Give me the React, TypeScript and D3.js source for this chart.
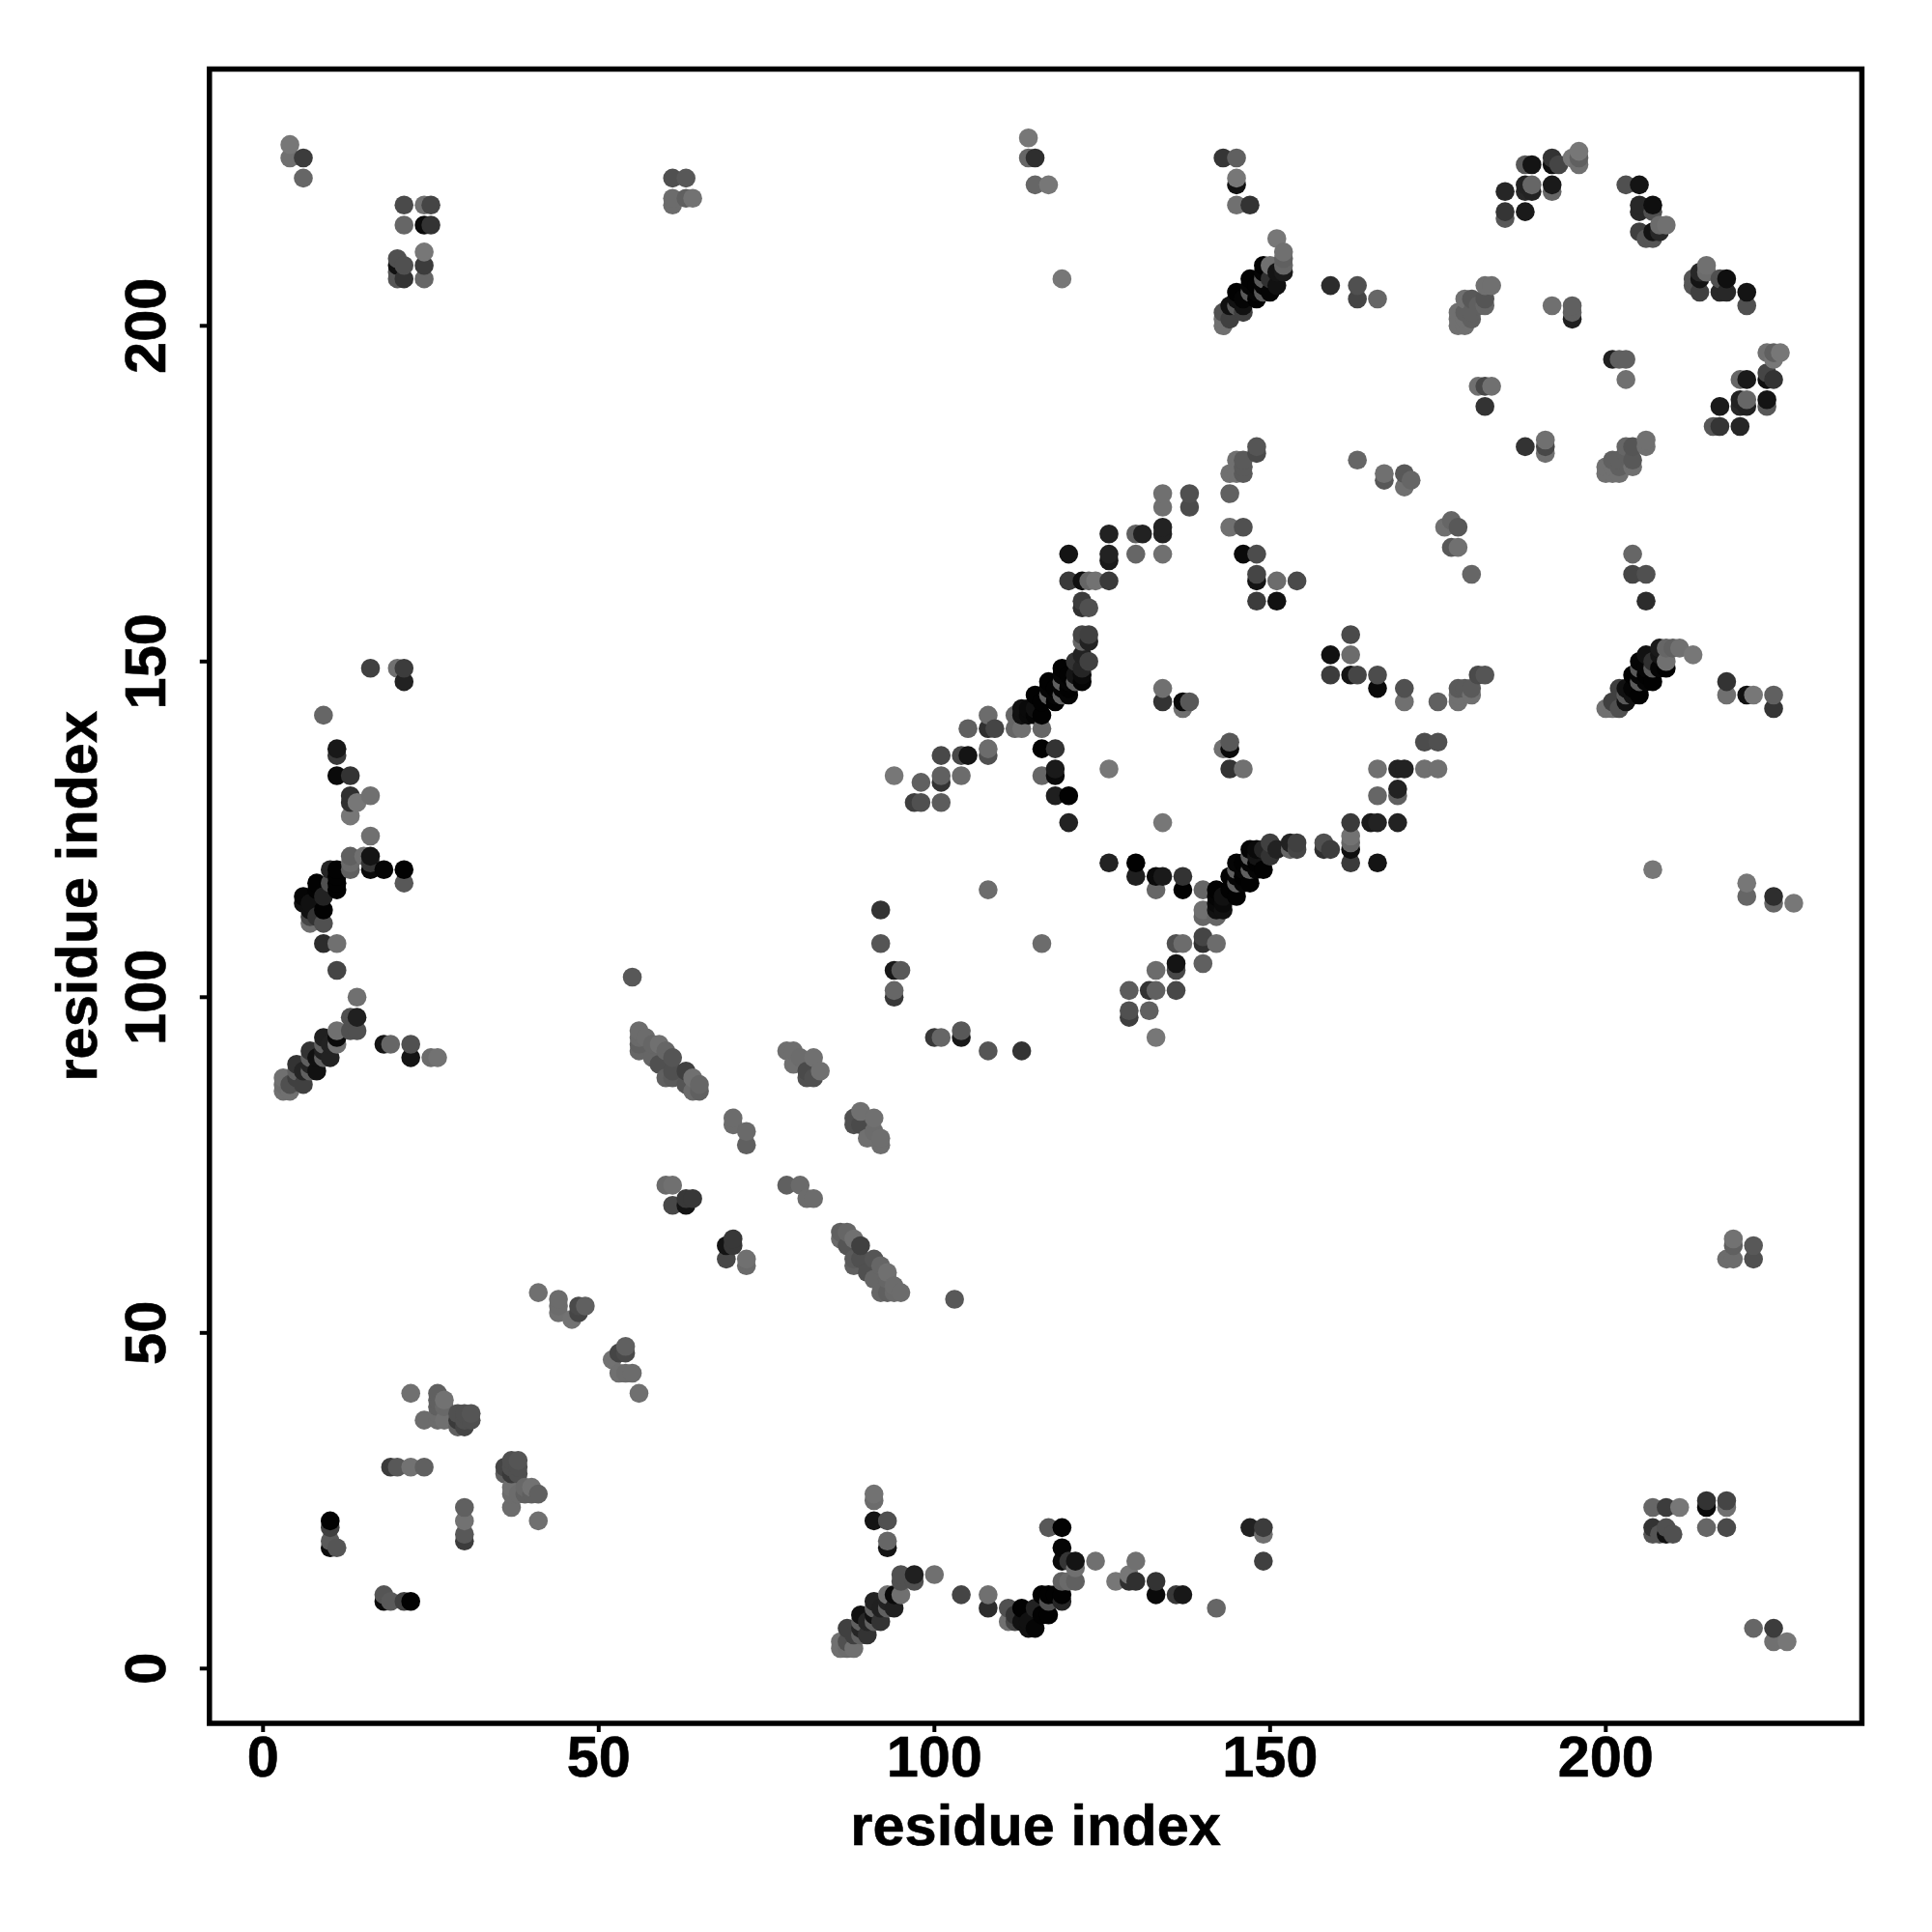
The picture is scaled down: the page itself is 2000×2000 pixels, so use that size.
import React from "react";
import * as d3 from "d3";

type C = [number, number, number];

// Contacts as [residue i, residue j, grey level]; the map is symmetric, so j > i only.
const armLowerLeft: C[] = [[3,88,0x70],[3,87,0x6c],[3,86,0x70],[4,87,0x50],[4,86,0x70],[5,88,0x40],[5,89,0x60],[5,90,0x33],[6,87,0x40],[6,89,0x25],[7,89,0x60],[7,90,0x25],[7,91,0x60],[7,92,0x33],[8,89,0x11],[8,91,0x11],[9,91,0x60],[9,92,0x20],[9,93,0x60],[9,94,0x20],[10,91,0x22],[10,93,0x22],[11,93,0x70],[11,94,0x0a],[11,95,0x70],[13,95,0x50],[13,97,0x50],[14,95,0x50],[14,97,0x20],[14,100,0x70],[18,93,0x14],[19,93,0x66],[22,91,0x14],[22,93,0x50],[25,91,0x6c],[26,91,0x72]];
const armUpperLeft: C[] = [[6,114,0x11],[6,115,0x05],[7,111,0x70],[7,112,0x45],[7,113,0x11],[7,114,0x11],[8,112,0x33],[8,116,0x02],[8,117,0x02],[9,108,0x2c],[9,111,0x50],[9,113,0x02],[9,115,0x22],[10,117,0x50],[10,119,0x25],[11,104,0x45],[11,108,0x70],[11,116,0x02],[11,117,0x02],[11,118,0x02],[11,119,0x02],[13,119,0x60],[13,120,0x6a],[13,121,0x60],[15,121,0x70],[16,119,0x0a],[16,120,0x35],[16,121,0x14],[16,124,0x70],[18,119,0x05],[21,117,0x58],[21,119,0x02]];
const stemLeft: C[] = [[9,142,0x66],[11,133,0x0a],[11,136,0x38],[11,137,0x18],[13,127,0x77],[13,129,0x30],[13,130,0x30],[13,133,0x33],[14,129,0x77],[16,130,0x70],[16,149,0x40],[20,149,0x70],[21,147,0x22],[21,149,0x3c]];
const topLeft: C[] = [[4,225,0x70],[4,227,0x77],[6,222,0x66],[6,225,0x3c],[20,207,0x55],[20,208,0x55],[20,209,0x11],[20,210,0x50],[21,207,0x33],[21,209,0x50],[21,215,0x66],[21,218,0x4a],[24,207,0x66],[24,209,0x3c],[24,211,0x77],[24,215,0x0a],[24,218,0x70],[25,215,0x33],[25,218,0x45],[61,218,0x6c],[61,219,0x6c],[61,222,0x50],[63,219,0x60],[63,222,0x58],[64,219,0x72]];
const lowerLeftGroup: C[] = [[10,18,0x0a],[10,19,0x5a],[10,21,0x50],[10,22,0x0a],[11,18,0x58],[19,30,0x3c],[20,30,0x58],[22,30,0x72],[24,30,0x60],[18,11,0x55],[18,10,0x0a],[19,10,0x5a],[21,10,0x40],[22,10,0x02],[22,41,0x70],[24,37,0x6c],[26,37,0x6c],[26,38,0x6c],[26,39,0x60],[26,40,0x60],[26,41,0x60],[27,37,0x70],[27,39,0x68],[27,40,0x72],[29,36,0x60],[29,37,0x3a],[29,38,0x50],[30,36,0x45],[30,37,0x50],[30,38,0x50],[31,37,0x50],[31,38,0x55],[41,56,0x70],[44,53,0x70],[44,54,0x6c],[44,55,0x6c],[46,52,0x72],[47,53,0x45],[47,54,0x4a],[48,54,0x60],[55,103,0x58]];
const nearDiagonal: C[] = [[56,92,0x66],[56,93,0x60],[56,94,0x6a],[56,95,0x6c],[57,94,0x6c],[58,91,0x66],[58,93,0x66],[59,90,0x50],[59,93,0x70],[60,88,0x60],[60,92,0x66],[61,88,0x5a],[61,89,0x50],[61,91,0x55],[63,87,0x55],[63,89,0x40],[64,86,0x6a],[64,88,0x70],[65,86,0x60],[65,87,0x66],[60,72,0x6a],[61,69,0x48],[61,72,0x70],[63,69,0x14],[63,70,0x38],[64,70,0x38],[70,81,0x6c],[70,82,0x6c],[72,78,0x60],[72,80,0x6a],[78,92,0x6e],[79,90,0x70],[79,92,0x6e],[80,91,0x6c],[81,88,0x50],[81,89,0x4a],[82,88,0x50],[82,91,0x70],[83,89,0x70]];
const middleBand: C[] = [[92,108,0x55],[92,113,0x33],[94,100,0x38],[94,101,0x66],[94,104,0x18],[94,133,0x77],[95,104,0x58],[97,129,0x3e],[98,129,0x50],[98,132,0x60],[101,129,0x5c],[101,132,0x33],[101,133,0x60],[101,136,0x48],[104,133,0x6c],[104,136,0x48],[105,136,0x14],[105,140,0x60],[108,116,0x6c],[108,136,0x50],[108,137,0x6c],[108,140,0x30],[108,142,0x6c],[109,140,0x45],[116,133,0x66],[116,137,0x02],[118,130,0x1f],[118,133,0x0a],[118,134,0x1a],[118,137,0x33],[120,126,0x22],[120,130,0x02],[126,134,0x77]];
const darkDiagonalOne: C[] = [[112,140,0x66],[112,142,0x66],[113,140,0x70],[113,142,0x11],[113,143,0x11],[114,142,0x0a],[114,143,0x0a],[115,142,0x05],[115,143,0x11],[115,145,0x02],[116,140,0x66],[116,142,0x02],[116,144,0x02],[117,145,0x60],[117,146,0x05],[117,147,0x02],[118,144,0x02],[118,145,0x05],[118,146,0x02],[119,145,0x60],[119,146,0x05],[119,147,0x60],[119,148,0x05],[119,149,0x02],[120,145,0x05],[120,146,0x02],[120,147,0x05],[120,148,0x02],[121,147,0x60],[121,148,0x14],[121,150,0x33],[122,147,0x05],[122,148,0x0a],[122,149,0x25],[122,151,0x22],[123,150,0x40],[122,153,0x66],[122,154,0x45],[123,153,0x22],[123,154,0x40],[122,158,0x30],[122,159,0x3c],[123,158,0x50]];
const arcUpper: C[] = [[120,162,0x3a],[120,166,0x14],[122,162,0x0f],[123,162,0x66],[124,162,0x72],[126,162,0x3a],[126,165,0x1a],[126,166,0x22],[126,169,0x22],[130,166,0x66],[130,169,0x60],[131,169,0x22],[134,144,0x33],[134,146,0x70],[134,166,0x70],[134,169,0x22],[134,170,0x22],[134,173,0x70],[134,175,0x70],[137,143,0x70],[137,144,0x0a],[138,144,0x58],[138,173,0x4c],[138,175,0x50],[144,170,0x70],[144,175,0x60],[144,178,0x70],[145,178,0x70],[145,180,0x70],[146,166,0x0a],[146,170,0x50],[146,178,0x5a],[146,179,0x5a],[146,180,0x5a],[148,159,0x3c],[148,162,0x14],[148,163,0x45],[148,166,0x4c],[148,181,0x4a],[148,182,0x55],[151,159,0x11],[151,162,0x6c],[154,162,0x4a]];
const topMiddle: C[] = [[114,225,0x66],[114,228,0x77],[115,221,0x66],[115,225,0x2e],[117,221,0x77],[119,207,0x77],[143,225,0x35],[145,218,0x70],[145,221,0x11],[145,222,0x77],[145,225,0x60],[147,218,0x33]];
const darkDiagonalTwo: C[] = [[143,200,0x70],[143,201,0x70],[143,202,0x50],[144,201,0x40],[144,203,0x11],[145,203,0x5a],[145,204,0x11],[145,205,0x02],[146,202,0x40],[146,203,0x11],[146,204,0x05],[147,205,0x5a],[147,206,0x05],[147,207,0x02],[148,204,0x02],[148,205,0x05],[148,206,0x02],[149,205,0x5a],[149,206,0x05],[149,207,0x5a],[149,208,0x05],[149,209,0x02],[150,205,0x05],[150,207,0x30],[150,209,0x70],[151,206,0x11],[151,208,0x14],[151,213,0x77],[152,208,0x1a],[152,209,0x66],[152,210,0x60],[152,211,0x70]];
const rightBand: C[] = [[159,206,0x2c],[163,180,0x66],[163,204,0x45],[163,206,0x50],[166,204,0x66],[167,177,0x58],[167,178,0x70],[170,176,0x70],[170,178,0x58],[171,177,0x66],[178,200,0x70],[178,201,0x70],[178,202,0x70],[179,200,0x70],[179,201,0x70],[179,202,0x60],[179,204,0x70],[180,201,0x60],[180,202,0x60],[180,204,0x58],[181,191,0x70],[181,203,0x60],[182,188,0x33],[182,191,0x48],[182,203,0x66],[182,204,0x55],[182,206,0x70],[183,191,0x70],[183,206,0x70]];
const topRightGroup: C[] = [[185,216,0x58],[185,217,0x35],[185,220,0x26],[188,217,0x1a],[188,220,0x28],[188,221,0x22],[188,224,0x58],[189,220,0x22],[189,221,0x66],[189,224,0x14],[192,203,0x70],[192,220,0x66],[192,221,0x1a],[192,224,0x0f],[192,225,0x33],[193,224,0x45],[195,201,0x20],[195,202,0x60],[195,203,0x60],[195,225,0x77],[196,224,0x70],[196,225,0x60],[196,226,0x77],[203,221,0x50],[205,214,0x40],[205,217,0x28],[205,218,0x28],[205,221,0x14],[206,213,0x55],[207,213,0x55],[207,214,0x14],[207,217,0x50],[207,218,0x0f],[208,214,0x28],[208,215,0x6c],[209,215,0x70]];

const axisTicks = [0, 50, 100, 150, 200];
const axisTitle = "residue index";

const groups = [armLowerLeft, armUpperLeft, stemLeft, topLeft, lowerLeftGroup, nearDiagonal, middleBand, darkDiagonalOne, arcUpper, topMiddle, darkDiagonalTwo, rightBand, topRightGroup];

const x = d3.scaleLinear().domain([0, 200]).range([272.3, 1662.3]);
const y = d3.scaleLinear().domain([0, 200]).range([1727.3, 337.3]);

const frame = { left: 216.8, right: 1927.4, top: 71.5, bottom: 1784 };
const font = "'Liberation Sans', Arial, Helvetica, sans-serif";
const textStyle = { fontFamily: font, fontWeight: 700, fontSize: 59.5, fill: "#000" };

export default function App() {
  const seen = new Map<string, C>();
  groups.flat().forEach(([a, b, g]) => {
    const lo = Math.min(a, b), hi = Math.max(a, b);
    seen.set(`${lo},${hi}`, [lo, hi, g]);
    seen.set(`${hi},${lo}`, [hi, lo, g]);
  });
  const points = Array.from(seen.values()).sort((p, q) => d3.ascending(p[0], q[0]) || d3.ascending(p[1], q[1]));
  const cx = (frame.left + frame.right) / 2;
  const cy = (frame.top + frame.bottom) / 2;
  return (
    <svg width={2000} height={2000} style={{ position: "absolute", left: 0, top: 0, background: "#fff" }}>
      {points.map(([a, b, g], k) => (
        <circle key={k} cx={x(a)} cy={y(b)} r={9.8} fill={d3.rgb(g, g, g).formatHex()} />
      ))}
      <rect x={frame.left} y={frame.top} width={frame.right - frame.left} height={frame.bottom - frame.top} fill="none" stroke="#000" strokeWidth={5.5} />
      {axisTicks.map((t) => (
        <g key={t}>
          <line x1={x(t)} x2={x(t)} y1={frame.bottom} y2={frame.bottom + 9} stroke="#000" strokeWidth={4} />
          <text x={x(t)} y={1839} textAnchor="middle" stroke="#000" strokeWidth={0.6} style={textStyle}>{t}</text>
          <line x1={frame.left} x2={frame.left - 10} y1={y(t)} y2={y(t)} stroke="#000" strokeWidth={4} />
          <text transform={`translate(171,${y(t)}) rotate(-90)`} textAnchor="middle" stroke="#000" strokeWidth={0.6} style={textStyle}>{t}</text>
        </g>
      ))}
      <text x={cx} y={1910} textAnchor="middle" stroke="#000" strokeWidth={0.6} style={textStyle}>{axisTitle}</text>
      <text transform={`translate(99.5,${cy}) rotate(-90)`} textAnchor="middle" stroke="#000" strokeWidth={0.6} style={textStyle}>{axisTitle}</text>
    </svg>
  );
}
